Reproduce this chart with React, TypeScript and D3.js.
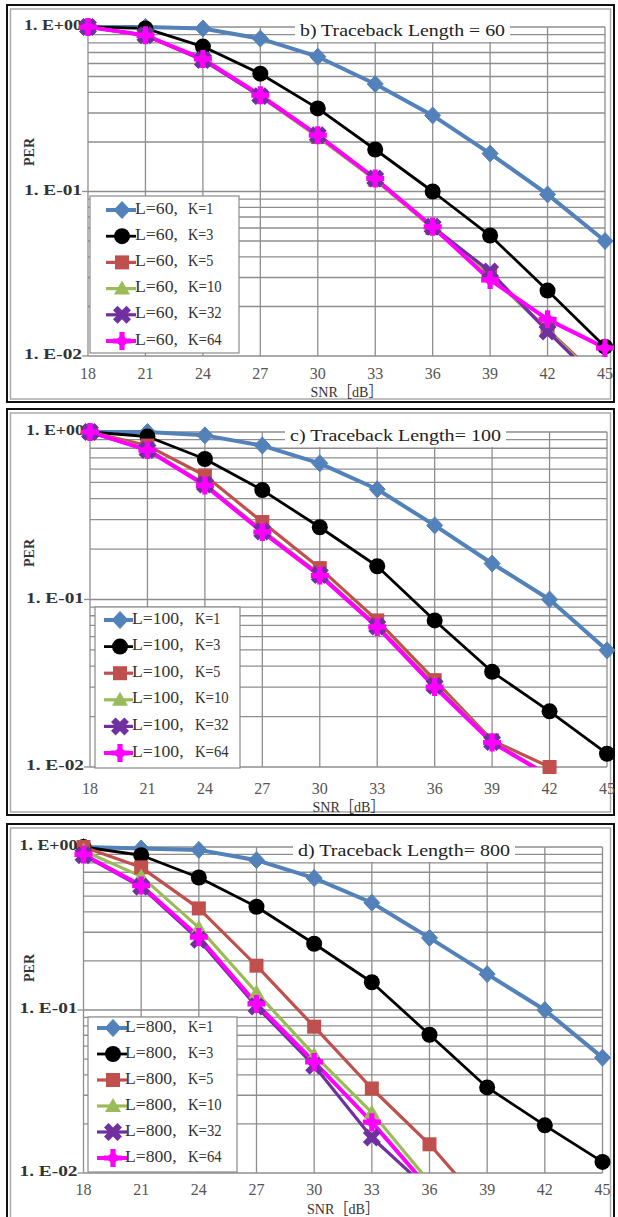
import React from 'react';
import * as d3 from 'd3';

// ---------- data ----------
const snr = [18, 21, 24, 27, 30, 33, 36, 39, 42, 45];
const xTickLabels = ['18', '21', '24', '27', '30', '33', '36', '39', '42', '45'];
const yTickValues = [1, 0.1, 0.01];
const yTickLabels = ['1. E+00', '1. E-01', '1. E-02'];
const kLabels = ['K=1', 'K=3', 'K=5', 'K=10', 'K=32', 'K=64'];
const lengths = ['60', '100', '800'];
const titles = ['b) Traceback Length = 60', 'c) Traceback Length= 100', 'd) Traceback Length= 800'];

const L60_K1 = [1.0, 1.0, 0.98, 0.85, 0.66, 0.45, 0.29, 0.17, 0.096, 0.05];
const L60_K3 = [1.0, 0.98, 0.76, 0.52, 0.32, 0.18, 0.1, 0.054, 0.025, 0.0114];
const L60_K5 = [1.0, 0.89, 0.63, 0.38, 0.215, 0.118, 0.06, 0.031, 0.0145, 0.0068];
const L60_K10 = [1.0, 0.89, 0.63, 0.38, 0.215, 0.118, 0.06, 0.031, 0.0143, 0.0066];
const L60_K32 = [1.0, 0.89, 0.63, 0.38, 0.22, 0.12, 0.061, 0.0326, 0.0141, 0.0064];
const L60_K64 = [1.0, 0.89, 0.64, 0.385, 0.22, 0.12, 0.061, 0.029, 0.0167, 0.0112];

const L100_K1 = [1.0, 1.0, 0.955, 0.83, 0.65, 0.455, 0.277, 0.164, 0.1, 0.0497];
const L100_K3 = [1.0, 0.94, 0.69, 0.45, 0.27, 0.158, 0.075, 0.037, 0.0215, 0.012];
const L100_K5 = [1.0, 0.83, 0.55, 0.29, 0.154, 0.075, 0.033, 0.0144, 0.01, null];
const L100_K10 = [1.0, 0.79, 0.49, 0.26, 0.142, 0.07, 0.031, 0.0142, 0.0089, null];
const L100_K32 = [1.0, 0.78, 0.485, 0.255, 0.14, 0.069, 0.0305, 0.0141, 0.0088, null];
const L100_K64 = [1.0, 0.78, 0.48, 0.253, 0.139, 0.0686, 0.03, 0.014, 0.0088, null];

const L800_K1 = [1.0, 0.98, 0.96, 0.83, 0.645, 0.455, 0.277, 0.166, 0.1, 0.051];
const L800_K3 = [1.0, 0.89, 0.65, 0.43, 0.255, 0.148, 0.0705, 0.0335, 0.0196, 0.0117];
const L800_K5 = [1.0, 0.75, 0.42, 0.187, 0.079, 0.033, 0.015, 0.0059, null, null];
const L800_K10 = [0.95, 0.66, 0.32, 0.128, 0.053, 0.0235, 0.0088, null, null, null];
const L800_K32 = [0.89, 0.57, 0.27, 0.105, 0.0455, 0.0165, 0.0078, null, null, null];
const L800_K64 = [0.9, 0.58, 0.28, 0.109, 0.048, 0.0205, 0.008, null, null, null];

const panelData = [
  [L60_K1, L60_K3, L60_K5, L60_K10, L60_K32, L60_K64],
  [L100_K1, L100_K3, L100_K5, L100_K10, L100_K32, L100_K64],
  [L800_K1, L800_K3, L800_K5, L800_K10, L800_K32, L800_K64],
];

// ---------- styles ----------
const seriesColors = ['#5381b9', '#000000', '#c0504d', '#9bbb59', '#7030a0', '#ff00ff'];
const seriesWidths = [4, 2.8, 3.2, 3.2, 3.2, 4];
const seriesMarkers = ['diamond', 'circle', 'square', 'triangle', 'x', 'star'];

const layouts = [
  {
    frame: { x: 7, y: 5, w: 607, h: 397 },
    plot: { x0: 88, x1: 605, y0: 27, y1: 356 },
    legend: { x: 90, y: 196, w: 149, h: 157, row0: 210, step: 26.2, mx: 122, lx0: 106, lx1: 136, tx: 135, kx: 188 },
    title: { x0: 300, x1: 505 },
    per: { x: 31, y: 152 },
    xlabY: 379, snrY: 397,
  },
  {
    frame: { x: 7, y: 409, w: 607, h: 406 },
    plot: { x0: 90, x1: 607, y0: 432, y1: 767 },
    legend: { x: 95, y: 607, w: 145, h: 161, row0: 620, step: 26.6, mx: 120, lx0: 104, lx1: 133, tx: 132, kx: 195 },
    title: { x0: 290, x1: 501 },
    per: { x: 31, y: 553 },
    xlabY: 794, snrY: 812,
  },
  {
    frame: { x: 7, y: 824, w: 607, h: 400 },
    plot: { x0: 83.5, x1: 602.5, y0: 847, y1: 1173 },
    legend: { x: 88, y: 1017, w: 149, h: 155, row0: 1028, step: 26, mx: 113, lx0: 97, lx1: 127, tx: 125, kx: 188 },
    title: { x0: 298, x1: 510 },
    per: { x: 31, y: 968 },
    xlabY: 1195, snrY: 1214,
  },
];

const SERIF = '"Liberation Serif", "DejaVu Serif", "Noto Sans CJK JP", serif';
const GRID = '#8e8e8e';

function plusPts(a: number, L: number) {
  return [
    [-a, -L], [a, -L], [a, -a], [L, -a], [L, a], [a, a], [a, L], [-a, L], [-a, a], [-L, a], [-L, -a], [-a, -a],
  ].map((p) => p.join(',')).join(' ');
}

function Marker({ type, color, x, y }: { type: string; color: string; x: number; y: number }) {
  const t = `translate(${x},${y})`;
  switch (type) {
    case 'diamond':
      return <path transform={t} d="M0,-8.5 L8,0 L0,8.5 L-8,0Z" fill={color} stroke={color} strokeWidth={1} />;
    case 'circle':
      return <circle cx={x} cy={y} r={8} fill={color} />;
    case 'square':
      return <rect x={x - 7} y={y - 7} width={14} height={14} fill={color} />;
    case 'triangle':
      return <path transform={t} d="M0,-8 L8,6 L-8,6Z" fill={color} />;
    case 'x':
      return <polygon transform={`${t} rotate(45)`} points={plusPts(3.2, 9.5)} fill={color} />;
    case 'star':
      return (
        <g transform={t}>
          <polygon points={plusPts(2.6, 9)} fill={color} />
          <path d="M0,-6.5 L7,0 L0,6.5 L-7,0Z" fill={color} />
        </g>
      );
    default:
      return null;
  }
}

function Panel({ idx }: { idx: number }) {
  const lay = layouts[idx];
  const data = panelData[idx];
  const { plot, frame, legend, title, per } = lay;
  const x = d3.scaleLinear().domain([snr[0], snr[snr.length - 1]]).range([plot.x0, plot.x1]);
  const y = d3.scaleLog().domain([1, 0.01]).range([plot.y0, plot.y1]);
  const hTicks = y.ticks();
  const clipId = `clip-${idx}`;
  const line = d3
    .line<number | null>()
    .defined((d) => d != null)
    .x((_, i) => x(snr[i]))
    .y((d) => y(d as number));
  const titleMid = (title.x0 + title.x1) / 2;
  const lText = `L=${lengths[idx]},`;
  return (
    <g>
      <defs>
        <clipPath id={clipId}>
          <rect x={plot.x0} y={plot.y0 - 2} width={plot.x1 - plot.x0 + 2} height={plot.y1 - plot.y0 + 2} />
        </clipPath>
      </defs>
      {/* frame */}
      <rect x={frame.x} y={frame.y} width={frame.w} height={frame.h} fill="#fff" stroke="#111" strokeWidth={2} />
      <rect x={frame.x + 3.5} y={frame.y + 4} width={frame.w - 7} height={frame.h - 7} fill="none" stroke="#aaa" strokeWidth={1.5} />
      {/* grid */}
      {hTicks.map((t, i) => (
        <line key={`h${i}`} x1={plot.x0} x2={plot.x1} y1={y(t)} y2={y(t)} stroke={GRID} strokeWidth={1.3} />
      ))}
      {snr.map((s, i) => (
        <line key={`v${i}`} x1={x(s)} x2={x(s)} y1={plot.y0} y2={plot.y1} stroke={GRID} strokeWidth={1.3} />
      ))}
      {yTickValues.map((v, i) => (
        <line key={`yt${i}`} x1={plot.x0 - 6} x2={plot.x0} y1={y(v)} y2={y(v)} stroke={GRID} strokeWidth={1.3} />
      ))}
      {/* title */}
      <rect x={title.x0 - 5} y={plot.y0 - 4} width={title.x1 - title.x0 + 10} height={19} fill="#fff" />
      <text
        x={titleMid}
        y={plot.y0 + 5}
        textAnchor="middle"
        dominantBaseline="middle"
        fontFamily={SERIF}
        fontSize={17}
        fill="#222"
        textLength={title.x1 - title.x0}
        lengthAdjust="spacingAndGlyphs"
      >
        {titles[idx]}
      </text>
      {/* y labels */}
      {yTickValues.map((v, i) => (
        <text
          key={`yl${i}`}
          x={plot.x0 - 6}
          y={y(v)}
          textAnchor="end"
          dominantBaseline="middle"
          fontFamily={SERIF}
          fontSize={15}
          fontWeight="bold"
          fill="#333"
          textLength={58}
          lengthAdjust="spacingAndGlyphs"
        >
          {yTickLabels[i]}
        </text>
      ))}
      <text
        transform={`translate(${per.x},${per.y}) rotate(-90)`}
        textAnchor="middle"
        dominantBaseline="middle"
        fontFamily={SERIF}
        fontSize={14}
        fontWeight="bold"
        fill="#333"
      >
        PER
      </text>
      {/* x labels */}
      {snr.map((s, i) => (
        <text
          key={`xl${i}`}
          x={x(s)}
          y={lay.xlabY}
          textAnchor="middle"
          fontFamily={SERIF}
          fontSize={16}
          fill="#555"
        >
          {xTickLabels[i]}
        </text>
      ))}
      <text
        x={(plot.x0 + plot.x1) / 2}
        y={lay.snrY}
        textAnchor="middle"
        fontFamily={SERIF}
        fontSize={15}
        fill="#333"
        textLength={72}
        lengthAdjust="spacingAndGlyphs"
      >
        SNR［dB］
      </text>
      {/* series lines */}
      <g clipPath={`url(#${clipId})`}>
        {data.map((vals, si) => (
          <path
            key={`l${si}`}
            d={line(vals as (number | null)[]) || ''}
            fill="none"
            stroke={seriesColors[si]}
            strokeWidth={seriesWidths[si]}
            strokeLinejoin="round"
          />
        ))}
      </g>
      {/* markers, series by series */}
      {data.map((vals, si) => (
        <g key={`m${si}`}>
          {(vals as (number | null)[]).map((v, i) =>
            v != null && v >= 0.0099 ? (
              <Marker key={i} type={seriesMarkers[si]} color={seriesColors[si]} x={x(snr[i])} y={y(v)} />
            ) : null
          )}
        </g>
      ))}
      {/* legend */}
      <rect x={legend.x} y={legend.y} width={legend.w} height={legend.h} fill="#fff" stroke="#8a8a8a" strokeWidth={1.2} />
      {kLabels.map((k, si) => {
        const ry = legend.row0 + si * legend.step;
        return (
          <g key={`lg${si}`}>
            <line x1={legend.lx0} x2={legend.lx1} y1={ry} y2={ry} stroke={seriesColors[si]} strokeWidth={seriesWidths[si]} />
            <Marker type={seriesMarkers[si]} color={seriesColors[si]} x={legend.mx} y={ry} />
            <text
              x={legend.tx}
              y={ry}
              dominantBaseline="middle"
              fontFamily={SERIF}
              fontSize={16}
              fill="#333"
              textLength={lText.length * 8.6}
              lengthAdjust="spacingAndGlyphs"
            >
              {lText}
            </text>
            <text
              x={legend.kx}
              y={ry}
              dominantBaseline="middle"
              fontFamily={SERIF}
              fontSize={16}
              fill="#333"
              textLength={k.length * 8.4}
              lengthAdjust="spacingAndGlyphs"
            >
              {k}
            </text>
          </g>
        );
      })}
    </g>
  );
}

export default function App() {
  return (
    <svg
      width={618}
      height={1217}
      viewBox="0 0 618 1217"
      style={{ position: 'absolute', left: 0, top: 0, background: '#fff' }}
    >
      <rect x={0} y={0} width={618} height={1217} fill="#fff" />
      {[0, 1, 2].map((i) => (
        <Panel key={i} idx={i} />
      ))}
    </svg>
  );
}
